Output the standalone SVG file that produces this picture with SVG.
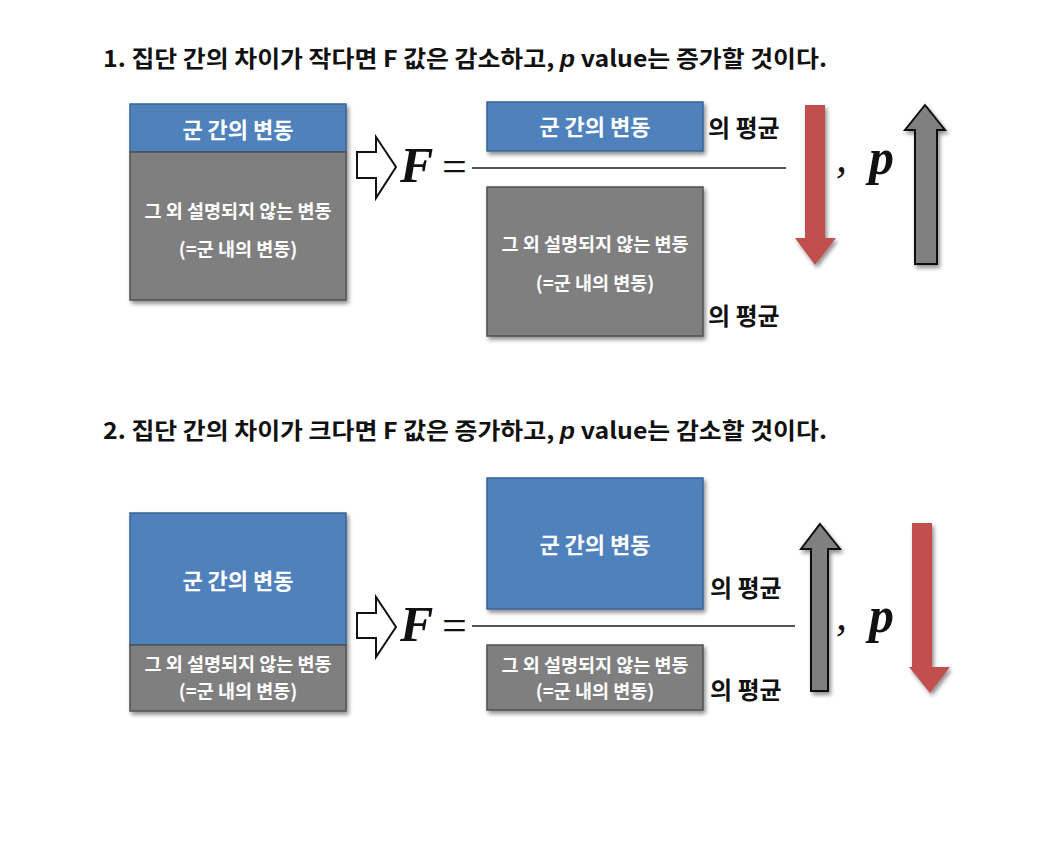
<svg xmlns="http://www.w3.org/2000/svg" width="1060" height="858" viewBox="0 0 1060 858">
<defs>
<filter id="sh" x="-10%" y="-10%" width="125%" height="125%">
<feGaussianBlur in="SourceAlpha" stdDeviation="2"/>
<feOffset dx="2" dy="3" result="o"/>
<feComponentTransfer><feFuncA type="linear" slope="0.45"/></feComponentTransfer>
<feMerge><feMergeNode/><feMergeNode in="SourceGraphic"/></feMerge>
</filter>
</defs>
<style>
text{font-family:"Malgun Gothic","Noto Sans CJK KR","Noto Sans",sans-serif;font-weight:bold}
.title{font-size:23px;fill:#111}
.bl{fill:#4F81BD;stroke:#3A6496;stroke-width:1.5}
.gr{fill:#7F7F7F;stroke:#505050;stroke-width:1.5}
.wt{fill:#fff;text-anchor:middle}
.big{font-size:22px}
.sm{font-size:18.5px}
.avg{font-size:24px;fill:#111}
.math{font-family:"Liberation Serif","DejaVu Serif",serif;font-style:italic;font-weight:bold;fill:#111}
.eq{font-family:"Liberation Serif","DejaVu Serif",serif;font-weight:normal;fill:#111}
.fl{stroke:#555;stroke-width:2}
.hollow{fill:#fff;stroke:#111;stroke-width:2;stroke-linejoin:miter}
.up{fill:#808080;stroke:#111;stroke-width:2}
.down{fill:#C0504D;stroke:none}
</style>

<g id="title1"><text class="title" x="103" y="67" textLength="724" lengthAdjust="spacingAndGlyphs">1. 집단 간의 차이가 작다면 F 값은 감소하고, <tspan class="math" style="font-family:'Liberation Sans',sans-serif">p</tspan> value는 증가할 것이다.</text></g>

<g id="left1" filter="url(#sh)">
<rect class="bl" x="130" y="104" width="216" height="48"/>
<rect class="gr" x="130" y="152" width="216" height="148"/>
</g>
<g id="left1-text">
<text class="wt big" x="238" y="138">군 간의 변동</text>
<text class="wt sm" x="238" y="218">그 외 설명되지 않는 변동</text>
<text class="wt sm" x="238" y="256">(=군 내의 변동)</text>
</g>

<g id="implies1"><path class="hollow" d="M357,152 L376,152 L376,137 L396,167 L376,198 L376,178 L357,178 Z"/></g>

<g id="formula1">
<text class="math" x="400" y="182" font-size="50">F</text>
<text class="eq" x="442" y="181" font-size="44">=</text>
<line class="fl" x1="472" y1="168" x2="786" y2="168"/>
</g>

<g id="num1" filter="url(#sh)"><rect class="bl" x="487" y="102" width="216" height="49"/></g>
<g id="num1-text"><text class="wt big" x="595" y="135">군 간의 변동</text>
<text class="avg" x="708" y="137">의 평균</text></g>

<g id="den1" filter="url(#sh)"><rect class="gr" x="487" y="187" width="216" height="149"/></g>
<g id="den1-text">
<text class="wt sm" x="595" y="251">그 외 설명되지 않는 변동</text>
<text class="wt sm" x="595" y="290">(=군 내의 변동)</text>
<text class="avg" x="708" y="325">의 평균</text>
</g>

<g id="fdown1" filter="url(#sh)"><path class="down" d="M805,105 L825,105 L825,238 L836,238 L815,265 L795,238 L805,238 Z"/></g>
<g id="comma1"><text class="eq" x="836" y="172" font-size="44" font-style="italic">,</text>
<text class="math" x="869" y="174" font-size="50">p</text></g>
<g id="pup1" filter="url(#sh)"><path class="up" d="M925,105 L945,130 L937,130 L937,264 L915,264 L915,130 L905,130 Z"/></g>

<g id="title2"><text class="title" x="103" y="439" textLength="724" lengthAdjust="spacingAndGlyphs">2. 집단 간의 차이가 크다면 F 값은 증가하고, <tspan class="math" style="font-family:'Liberation Sans',sans-serif">p</tspan> value는 감소할 것이다.</text></g>

<g id="left2" filter="url(#sh)">
<rect class="bl" x="130" y="513" width="216" height="132"/>
<rect class="gr" x="130" y="645" width="216" height="66"/>
</g>
<g id="left2-text">
<text class="wt big" x="238" y="589">군 간의 변동</text>
<text class="wt sm" x="238" y="671">그 외 설명되지 않는 변동</text>
<text class="wt sm" x="238" y="698">(=군 내의 변동)</text>
</g>

<g id="implies2"><path class="hollow" d="M357,613 L376,613 L376,597 L396,627 L376,657 L376,638 L357,638 Z"/></g>

<g id="formula2">
<text class="math" x="400" y="641" font-size="50">F</text>
<text class="eq" x="442" y="640" font-size="44">=</text>
<line class="fl" x1="472" y1="626" x2="795" y2="626"/>
</g>

<g id="num2" filter="url(#sh)"><rect class="bl" x="487" y="478" width="216" height="131"/></g>
<g id="num2-text"><text class="wt big" x="595" y="553">군 간의 변동</text>
<text class="avg" x="710" y="597">의 평균</text></g>

<g id="den2" filter="url(#sh)"><rect class="gr" x="487" y="645" width="216" height="65"/></g>
<g id="den2-text">
<text class="wt sm" x="595" y="672">그 외 설명되지 않는 변동</text>
<text class="wt sm" x="595" y="698">(=군 내의 변동)</text>
<text class="avg" x="710" y="699">의 평균</text>
</g>

<g id="fup2" filter="url(#sh)"><path class="up" d="M820,524 L840,549 L828,549 L828,691 L811,691 L811,549 L801,549 Z"/></g>
<g id="comma2"><text class="eq" x="836" y="630" font-size="44" font-style="italic">,</text>
<text class="math" x="869" y="632" font-size="50">p</text></g>
<g id="pdown2" filter="url(#sh)"><path class="down" d="M912,523 L932,523 L932,667 L950,667 L930,693 L909,667 L912,667 Z"/></g>
</svg>
